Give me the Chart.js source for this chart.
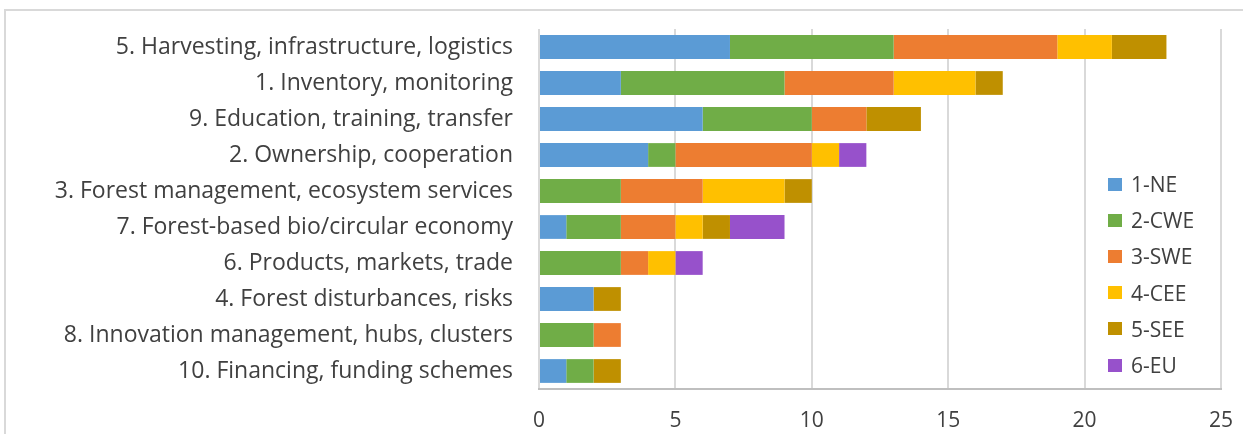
<!DOCTYPE html>
<html>
<head>
<meta charset="utf-8">
<script src="https://cdn.jsdelivr.net/npm/chart.js@4/dist/chart.umd.min.js"></script>
<style>
  html, body { margin: 0; padding: 0; background: #fff; overflow: hidden; }
  #wrap { position: relative; width: 1243px; height: 434px; }
  #frame { position: absolute; left: 4px; top: 9px; width: 1300px; height: 500px; border: 2px solid #d9d9d9; }
  #chart { position: absolute; left: 0; top: 0; }
  #legend { position: absolute; left: 1108px; top: 166px; font-family: "Open Sans", sans-serif; font-size: 21px; color: #404040; }
  .item { height: 36.2px; display: flex; align-items: center; }
  .box { width: 14px; height: 13px; margin-right: 9px; }
</style>
</head>
<body>
<div id="wrap">
  <div id="frame"></div>
  <canvas id="chart" width="1243" height="434"></canvas>
  <div id="legend"></div>
</div>
<script>
const categories = [
  '5. Harvesting, infrastructure, logistics',
  '1. Inventory, monitoring',
  '9. Education, training, transfer',
  '2. Ownership, cooperation',
  '3. Forest management, ecosystem services',
  '7. Forest-based bio/circular economy',
  '6. Products, markets, trade',
  '4. Forest disturbances, risks',
  '8. Innovation management, hubs, clusters',
  '10. Financing, funding schemes'
];
const seriesNames = ['1-NE', '2-CWE', '3-SWE', '4-CEE', '5-SEE', '6-EU'];
const seriesColors = ['#5b9bd5', '#70ad47', '#ed7d31', '#ffc000', '#bf9000', '#9751cb'];
const ne  = [7, 3, 6, 4, 0, 1, 0, 2, 0, 1];
const cwe = [6, 6, 4, 1, 3, 2, 3, 0, 2, 1];
const swe = [6, 4, 2, 5, 3, 2, 1, 0, 1, 0];
const cee = [2, 3, 0, 1, 3, 1, 1, 0, 0, 0];
const see = [2, 1, 2, 0, 1, 1, 0, 1, 0, 1];
const eu  = [0, 0, 0, 1, 0, 2, 1, 0, 0, 0];
const xTicks = [0, 5, 10, 15, 20, 25];

const values = [ne, cwe, swe, cee, see, eu];
const chartData = {
  labels: categories,
  datasets: seriesNames.map((name, i) => ({
    label: name,
    data: values[i],
    backgroundColor: seriesColors[i],
    borderWidth: 0,
    barPercentage: 0.66,
    categoryPercentage: 1
  }))
};

const chart = new Chart(document.getElementById('chart'), {
  type: 'bar',
  data: chartData,
  options: {
    indexAxis: 'y',
    animation: false, responsive: false, maintainAspectRatio: false,
    layout: { padding: { top: 29, right: 22, bottom: 0, left: 0 } },
    scales: {
      x: {
        stacked: true, min: 0, max: 25,
        afterBuildTicks: (s) => { s.ticks = xTicks.map(v => ({ value: v })); },
        // fixed axis height, no extra label padding at the ends
        afterFit: (s) => { s.height = 45; s.paddingLeft = 0; s.paddingRight = 0; },
        grid: { color: '#d9d9d9', lineWidth: 2, drawTicks: false },
        border: { color: '#bfbfbf', width: 2 },
        ticks: { padding: 19, color: '#404040', font: { family: 'Open Sans', size: 21 } }
      },
      y: {
        stacked: true,
        afterFit: (s) => { s.width = 539; s.paddingTop = 0; s.paddingBottom = 0; },
        grid: { display: false, drawTicks: false },
        border: { display: false },
        ticks: { padding: 26, color: '#404040', font: { family: 'Open Sans', size: 23 } }
      }
    },
    plugins: { legend: { display: false }, tooltip: { enabled: false } }
  }
});

const legend = document.getElementById('legend');
seriesNames.forEach((name, i) => {
  const item = document.createElement('div');
  item.className = 'item';
  item.innerHTML = '<span class="box" style="background:' + seriesColors[i] + '"></span>' + name;
  legend.appendChild(item);
});
</script>
</body>
</html>
